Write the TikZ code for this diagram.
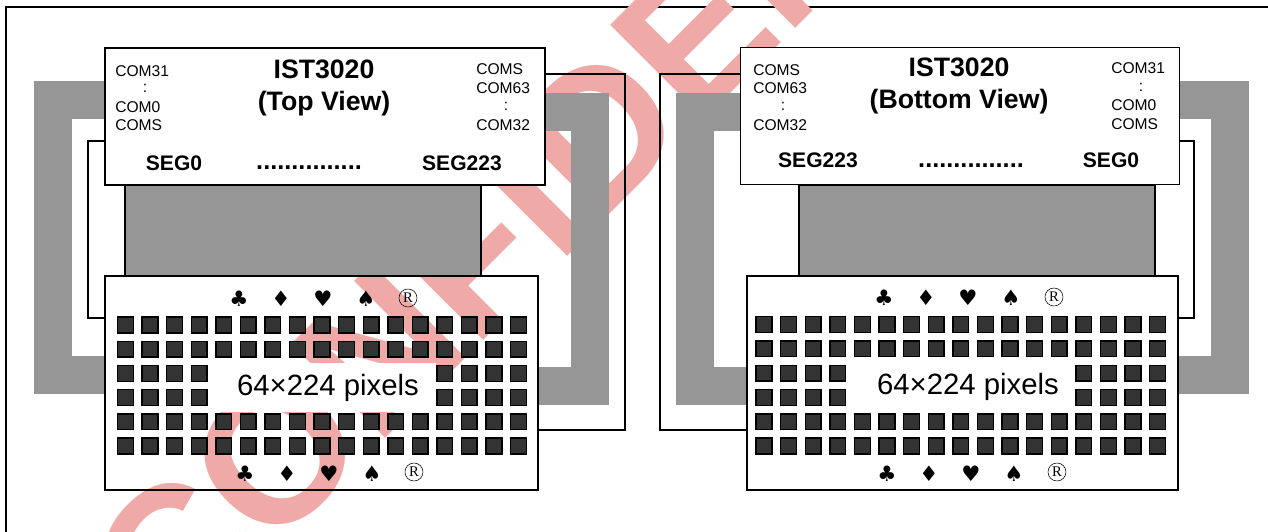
\documentclass[tikz,border=0pt]{standalone}
\usepackage{fontspec}
\setmainfont{Liberation Sans}
\newfontfamily\cardfont{DejaVu Sans}
\newfontfamily\regfont{Liberation Serif}
\usetikzlibrary{positioning, backgrounds}

\definecolor{bandgray}{HTML}{969696}
\definecolor{cellgray}{HTML}{333333}
\definecolor{markpink}{HTML}{EFA9A7}

\begin{document}
\begin{tikzpicture}[
    x=0.75pt, y=-0.75pt,
    ic/.style={draw, line width=1.2pt, fill=white, inner sep=0pt},
    panel/.style={draw, line width=1.2pt, inner sep=0pt},
    glass/.style={draw, line width=1pt, fill=bandgray, inner sep=0pt},
    band/.style={bandgray, line width=28.5pt, line join=miter},
    wire/.style={line width=0.9pt},
    cell/.style={draw=black, fill=cellgray, line width=1.1pt, minimum size=11.8pt, inner sep=0pt},
    pinname/.style={font=\fontsize{11.7}{14}\selectfont, inner sep=0pt},
    segname/.style={font=\fontsize{15.8}{18}\selectfont\bfseries, inner sep=0pt},
    dotname/.style={anchor=base, font=\fontsize{19}{20}\selectfont\bfseries, inner sep=0pt},
    title/.style={font=\fontsize{20}{24}\selectfont\bfseries, align=center, inner sep=0pt},
    pixname/.style={font=\fontsize{22}{26}\selectfont, inner sep=0pt},
    suit/.style={font=\fontsize{16}{18}\selectfont\cardfont, inner sep=0pt},
    regmark/.style={draw, circle, line width=0.4pt, minimum size=13.5pt, inner sep=0pt, font=\fontsize{11}{12}\selectfont\regfont},
]
\useasboundingbox (0,0) rectangle (1268,532);

% top view
\node[glass, minimum width=267pt, minimum height=68pt] (glassL) at (303,230.5) {};
\node[panel, minimum width=324.75pt, minimum height=160.5pt] (panelL) at (321.5,383) {};
\node[ic, minimum width=330pt, minimum height=102.75pt] (icL) at (325,116.5) {};
\coordinate (bandLa) at (53,100);
\coordinate (bandLb) at (53,374.5);
\coordinate (bandRa) at (589.5,112);
\coordinate (bandRb) at (589.5,386);
\coordinate (wireLa) at (88,141);
\coordinate (wireLb) at (88,318);
\coordinate (wireRa) at (625,74);
\coordinate (wireRb) at (625,430);

% bottom view
\node[glass, minimum width=267pt, minimum height=68pt] (glassR) at (977,230.5) {};
\node[panel, fill=white, minimum width=323.25pt, minimum height=160.5pt] (panelR) at (962.5,383) {};
\node[ic, minimum width=329pt, minimum height=102.75pt] (icR) at (960,116) {};
\coordinate (bandMa) at (695,112);
\coordinate (bandMb) at (695,386);
\coordinate (bandNa) at (1229.5,100);
\coordinate (bandNb) at (1229.5,374.5);
\coordinate (wireMa) at (660,74);
\coordinate (wireMb) at (660,430);
\coordinate (wireNa) at (1194,141);
\coordinate (wireNb) at (1194,318);

\begin{pgfonlayer}{background}
\draw[line width=1.1pt] (6,533) -- (6,7) -- (1269,7);
\begin{scope}
\clip (0,0) rectangle (1268,532);
\node[markpink, rotate=45, anchor=base west, inner sep=0pt, font=\fontsize{145}{160}\selectfont\bfseries] (mark) at (171,653) {CONFIDENTIAL};
\end{scope}
\draw[band] (icL.west |- bandLa) -- (bandLa) -- (bandLb) -- (panelL.west |- bandLb);
\draw[band] (icL.east |- bandRa) -- (bandRa) -- (bandRb) -- (panelL.east |- bandRb);
\draw[wire] (icL.west |- wireLa) -- (wireLa) -- (wireLb) -- (panelL.west |- wireLb);
\draw[wire] (icL.east |- wireRa) -- (wireRa) -- (wireRb) -- (panelL.east |- wireRb);
\draw[band] (icR.west |- bandMa) -- (bandMa) -- (bandMb) -- (panelR.west |- bandMb);
\draw[band] (icR.east |- bandNa) -- (bandNa) -- (bandNb) -- (panelR.east |- bandNb);
\draw[wire] (icR.west |- wireMa) -- (wireMa) -- (wireMb) -- (panelR.west |- wireMb);
\draw[wire] (icR.east |- wireNa) -- (wireNa) -- (wireNb) -- (panelR.east |- wireNb);
\end{pgfonlayer}

\node[title] (titleL) at (324,88) {IST3020\\(Top View)};
\node[segname] (seg0L) at (174,163) {SEG0};
\node[dotname] (dotsL) at (309,169) {...............};
\node[segname] (seg223L) at (462,163) {SEG223};
\node[pinname, anchor=west] (com31L) at (115,71) {COM31};
\node[pinname] (colonL) at (145,88) {:};
\node[pinname, anchor=west] (com0L) at (115,107) {COM0};
\node[pinname, anchor=west] (comsL) at (115,125) {COMS};
\node[pinname, anchor=west] (comsR) at (476,69) {COMS};
\node[pinname, anchor=west] (com63L) at (476,88) {COM63};
\node[pinname] (colonR) at (506,106) {:};
\node[pinname, anchor=west] (com32L) at (476,125) {COM32};

\fill[white] (208,363) rectangle (436,412);
\foreach \col in {0,...,16}
  \foreach \row in {0,...,5} {
    \pgfmathtruncatemacro{\gap}{and(and(\row>1,\row<4),and(\col>3,\col<13))}
    \ifnum\gap=0
      \node[cell] (cellL\col-\row) at (125.5+\col*24.56,325+\row*24.2) {};
    \fi
  }
\node[pixname] (pixL) at (328,388) {64×224 pixels};

\foreach \name/\sym/\xpos in {a/♣/239, b/♦/281, c/♥/323, d/♠/366} {
  \node[suit] (suitLa\name) at (\xpos,299) {\sym};
  \node[suit] (suitLb\name) at (\xpos+6,474) {\sym};
}
\node[regmark] (regLa) at (408,298) {R};
\node[regmark] (regLb) at (414,472) {R};

\node[title] (titleR) at (959,85.5) {IST3020\\(Bottom View)};
\node[segname] (seg223R) at (818,160) {SEG223};
\node[dotname] (dotsR) at (971,167) {...............};
\node[segname] (seg0R) at (1111,160) {SEG0};
\node[pinname, anchor=west] (comsM) at (753,70) {COMS};
\node[pinname, anchor=west] (com63M) at (753,88) {COM63};
\node[pinname] (colonM) at (783,106) {:};
\node[pinname, anchor=west] (com32M) at (753,125) {COM32};
\node[pinname, anchor=west] (com31N) at (1111,68) {COM31};
\node[pinname] (colonN) at (1141,87) {:};
\node[pinname, anchor=west] (com0N) at (1111,105) {COM0};
\node[pinname, anchor=west] (comsN) at (1111,124) {COMS};

\foreach \col in {0,...,16}
  \foreach \row in {0,...,5} {
    \pgfmathtruncatemacro{\gap}{and(and(\row>1,\row<4),and(\col>3,\col<13))}
    \ifnum\gap=0
      \node[cell] (cellR\col-\row) at (764+\col*24.6,324.5+\row*24.3) {};
    \fi
  }
\node[pixname] (pixR) at (968,387) {64×224 pixels};

\foreach \name/\sym/\xpos in {a/♣/884, b/♦/926, c/♥/968, d/♠/1011} {
  \node[suit] (suitRa\name) at (\xpos,298) {\sym};
  \node[suit] (suitRb\name) at (\xpos+3,474) {\sym};
}
\node[regmark] (regRa) at (1054,297) {R};
\node[regmark] (regRb) at (1057,472) {R};

\end{tikzpicture}
\end{document}
